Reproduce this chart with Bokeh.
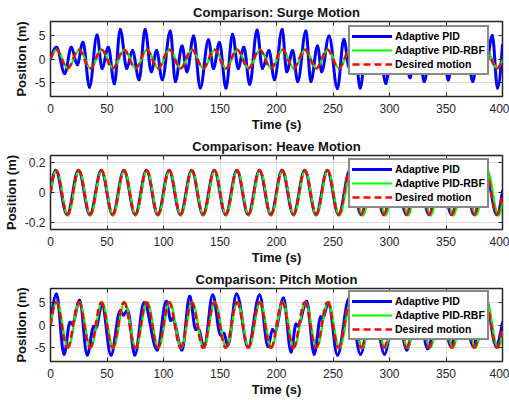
import numpy as np
from bokeh.plotting import figure
from bokeh.models import Range1d, FixedTicker, LinearAxis, Legend, LegendItem, ColumnDataSource
from bokeh.layouts import column
from bokeh.embed import file_html
from bokeh.resources import INLINE

FONT = "Liberation Sans"

# ---------------- data (extrema) ----------------
x_ticks = [0, 50, 100, 150, 200, 250, 300, 350, 400]
x_tick_labels = ["0", "50", "100", "150", "200", "250", "300", "350", "400"]

series_names = ["Adaptive PID", "Adaptive PID-RBF", "Desired motion"]

# desired motion: times of zero start, extrema, end
des_t = [0, 5, 15, 25, 35, 45, 55, 65, 75, 85, 95, 105, 115, 125, 135, 145, 155, 165, 175, 185, 195,
         205, 215, 225, 235, 245, 255, 265, 275, 285, 295, 305, 315, 325, 335, 345, 355, 365, 375, 385, 395, 400]

# ---- Surge ----
surge_y_ticks = [-5, 0, 5]
surge_y_labels = ["-5", "0", "5"]
surge_des = [0, 2, -2, 2, -2, 2, -2, 2, -2, 2, -2, 2, -2, 2, -2, 2, -2, 2, -2, 2, -2,
             2, -2, 2, -2, 2, -2, 2, -2, 2, -2, 2, -2, 2, -2, 2, -2, 2, -2, 2, -2, 0]
surge_rbf_t = [0, 5.5, 15.5, 25.5, 35.5, 45.5, 55.5, 65.5, 75.5, 85.5, 95.5, 105.5, 115.5, 125.5, 135.5,
               145.5, 155.5, 165.5, 175.5, 185.5, 195.5, 205.5, 215.5, 225.5, 235.5, 245.5, 255.5, 265.5,
               275.5, 285.5, 295.5, 305.5, 315.5, 325.5, 335.5, 345.5, 355.5, 365.5, 375.5, 385.5, 395.5, 400]
surge_rbf = [0, 2, -2, 2, -2, 2, -2, 2, -2, 2, -2, 2, -2, 2, -2, 2, -2, 2, -2, 2, -2,
             2, -2, 2, -2, 2, -2, 2, -2, 2, -2, 2, -2, 2, -2, 2, -2, 2, -2, 2, -2, -0.3]
surge_pid_t = [0, 5.3, 12.6, 18.4, 23.7, 28.7, 34.5, 41.2, 45.6, 51.2, 56.5, 61.7, 67.5, 72.5, 78.4,
               83.7, 89.2, 93.9, 98.9, 106, 110.5, 116.4, 120.8, 126.6, 132.5, 139.8, 144.2, 149.5,
               155.3, 161.1, 166.1, 171.1, 176.3, 182.8, 187.5, 193.3, 198.2, 205, 209.1, 214.3, 218.8,
               226, 230.4, 236.3, 240, 246.5, 253.9, 259.6, 264.5, 269, 274, 280.5, 286, 291, 296.8,
               303, 308, 313, 318.2, 324.5, 330.7, 336.5, 341, 346.5, 352, 358, 363, 368, 373.7, 380,
               385, 391, 395.6, 400]
surge_pid = [0, 2.5, -3.1, 2.5, -1.2, 3.6, -6.0, 5.1, -2.0, 2.5, -5.3, 6.3, -2.0, 1.8, -4.4,
             6.3, -2.7, 1.8, -4.4, 6.0, -4.8, 2.8, -2.7, 4.9, -6.2, 4.1, -2.0, 3.5,
             -6.2, 5.3, -2.0, 2.5, -5.4, 6.2, -2.0, 1.8, -4.4, 6.3, -2.7, 1.8, -4.8,
             6.0, -4.8, 2.8, -2.7, 4.9, -6.3, 4.2, -2.0, 3.5, -6.2, 5.5, -2.0, 2.5, -5.2,
             6.2, -2.0, 1.8, -4.0, 6.3, -4.8, 2.5, -2.7, 5.0, -4.5, 5.5, -2.5, 3.0, -4.8, 6.0,
             -2.0, 5.0, -6.2, 3.0]

# ---- Heave ----
heave_y_ticks = [-0.2, 0, 0.2]
heave_y_labels = ["-0.2", "0", "0.2"]
heave_des = [0, 0.15, -0.15, 0.15, -0.15, 0.15, -0.15, 0.15, -0.15, 0.15, -0.15, 0.15, -0.15, 0.15, -0.15,
             0.15, -0.15, 0.15, -0.15, 0.15, -0.15, 0.15, -0.15, 0.15, -0.15, 0.15, -0.15, 0.15, -0.15,
             0.15, -0.15, 0.15, -0.15, 0.15, -0.15, 0.15, -0.15, 0.15, -0.15, 0.15, -0.15, 0]
heave_rbf_t = [0, 5.4, 15.4, 25.4, 35.4, 45.4, 55.4, 65.4, 75.4, 85.4, 95.4, 105.4, 115.4, 125.4, 135.4,
               145.4, 155.4, 165.4, 175.4, 185.4, 195.4, 205.4, 215.4, 225.4, 235.4, 245.4, 255.6, 266.3,
               276.5, 286.5, 296.5, 306.5, 316.5, 326.5, 336.5, 346.5, 356.5, 366.5, 376.5, 386.5, 396.5, 400]
heave_rbf = [0, 0.15, -0.155, 0.15, -0.155, 0.15, -0.155, 0.15, -0.155, 0.15, -0.155, 0.15, -0.155, 0.15, -0.155,
             0.15, -0.155, 0.15, -0.155, 0.15, -0.155, 0.15, -0.155, 0.15, -0.155, 0.15, -0.155, 0.15, -0.155,
             0.15, -0.155, 0.15, -0.155, 0.15, -0.155, 0.15, -0.155, 0.15, -0.155, 0.15, -0.155, -0.07]
heave_pid_t = [0, 4.6, 14.7, 24.8, 34.9, 45, 55, 65, 75, 85, 95, 105, 115, 125, 135, 145, 155, 165, 175, 185, 195,
               205, 215, 225, 235, 245, 255, 265, 275, 285, 295, 305, 315, 325, 335, 345, 355, 365, 375, 385, 395, 400]
heave_pid = [0, 0.15, -0.15, 0.15, -0.15, 0.15, -0.15, 0.15, -0.15, 0.15, -0.15, 0.15, -0.15, 0.15, -0.15,
             0.15, -0.15, 0.15, -0.15, 0.15, -0.15, 0.15, -0.15, 0.15, -0.15, 0.15, -0.15, 0.15, -0.15,
             0.15, -0.15, 0.15, -0.15, 0.15, -0.15, 0.15, -0.15, 0.15, -0.15, 0.15, -0.15, 0.01]

# ---- Pitch ----
pitch_y_ticks = [-5, 0, 5]
pitch_y_labels = ["-5", "0", "5"]
pitch_des = [0, 5, -5, 5, -5, 5, -5, 5, -5, 5, -5, 5, -5, 5, -5, 5, -5, 5, -5, 5, -5,
             5, -5, 5, -5, 5, -5, 5, -5, 5, -5, 5, -5, 5, -5, 5, -5, 5, -5, 5, -5, 0]
pitch_rbf_t = [0, 5.6, 15.6, 25.6, 35.6, 45.6, 55.6, 65.6, 75.6, 85.6, 95.6, 105.6, 115.6, 125.6, 135.6,
               145.6, 155.6, 165.6, 175.6, 185.6, 195.6, 205.6, 215.6, 225.6, 235.6, 245.6, 255.8, 266,
               276, 286, 296, 306, 316, 326, 336, 346, 356, 366, 376, 386, 396, 400]
pitch_rbf = [0, 5, -5, 5, -5, 5, -5, 5, -5, 5, -5, 5, -5, 5, -5, 5, -5, 5, -5, 5, -5,
             5, -5, 5, -5, 5, -5, 5, -5, 5, -5, 5, -5, 5, -5, 5, -5, 5, -5, 5, -5, -1.5]
pitch_pid_t = [0, 5.3, 12.0, 17.3, 19.3, 25.8, 32.5, 38.3, 40.0, 45.6, 53.5, 61.7, 64.6, 68.2, 74.6,
               82.8, 94.5, 102.4, 106.5, 108, 116.4, 123.2, 128.5, 130.5, 136, 143.6, 150.5, 153.5,
               156.8, 164.7, 174.9, 185.1, 192.5, 196.5, 198.5, 206.2, 212.9, 217.3, 219, 226.7, 233.3,
               239.2, 240.8, 246, 253.9, 264.5, 274.3, 285, 295.6, 305.5, 315.3, 325, 333.7, 345, 354,
               365, 373.7, 385, 394.2, 400]
pitch_pid = [0, 6.8, -6.4, 0.6, 0.2, 5.4, -6.6, -0.3, -0.8, 4.5, -6.6, 3.1, 2.2, 3.3, -6.6,
             4.9, -5.5, 5.2, 1.0, 1.4, -5.5, 6.3, -1.0, -0.7, -4.9, 6.6, -2.2, -1.8,
             -4.5, 6.8, -4.9, 6.6, -4.7, -1.0, -1.5, 5.9, -5.9, 0.2, -0.2, 5.2, -6.4,
             1.8, 1.4, 5.0, -6.6, 6.0, -6.4, 5.8, -6.4, 6.2, -5.5, 5.5, -5.2, 6.8, -4.5,
             6.0, -4.5, 6.0, -4.5, 0.5]

COLORS = ["#0000ff", "#00ff00", "#ff0000"]
WIDTHS = [3, 2.2, 2.5]
DASHES = ["solid", "solid", "7 4"]


def bez_source(t, v, k=0.363):
    t = np.asarray(t, float)
    v = np.asarray(v, float)
    x0, x1 = t[:-1], t[1:]
    y0, y1 = v[:-1], v[1:]
    dx = x1 - x0
    cx0 = x0 + k * dx
    cy0 = y0.copy()
    cx1 = x1 - k * dx
    cy1 = y1.copy()
    # open (non-extremum) start and end points
    cx0[0] = x0[0] + dx[0] / 3.0
    cy0[0] = y0[0] + 0.52 * (y1[0] - y0[0])
    cx1[-1] = x1[-1] - dx[-1] / 3.0
    cy1[-1] = y1[-1] - 0.52 * (y1[-1] - y0[-1])
    return ColumnDataSource(dict(x0=x0, y0=y0, x1=x1, y1=y1, cx0=cx0, cy0=cy0, cx1=cx1, cy1=cy1))


def make_panel(title, y_lo, y_hi, y_ticks, y_labels, series, height, top, bottom):
    p = figure(width=509, height=height, x_range=Range1d(0, 400), y_range=Range1d(y_lo, y_hi),
               output_backend="svg", toolbar_location=None,
               min_border_left=46, min_border_right=7, min_border_top=top, min_border_bottom=bottom,
               background_fill_color="white", border_fill_color="white")
    p.title.text = title
    p.title.align = "center"
    p.title.text_font = FONT
    p.title.text_font_size = "13px"
    p.title.text_font_style = "bold"
    p.title.text_color = "#111111"
    p.title.standoff = 4
    p.outline_line_color = "#262626"
    p.outline_line_width = 1.5

    p.xaxis.ticker = FixedTicker(ticks=x_ticks)
    p.xaxis.major_label_overrides = dict(zip(x_ticks, x_tick_labels))
    p.yaxis.ticker = FixedTicker(ticks=y_ticks)
    p.yaxis.major_label_overrides = dict(zip(y_ticks, y_labels))
    p.xaxis.axis_label = "Time (s)"
    p.yaxis.axis_label = "Position (m)"
    for ax in (p.xaxis[0], p.yaxis[0]):
        ax.axis_line_color = None
        ax.major_tick_in = 4
        ax.major_tick_out = 0
        ax.major_tick_line_color = "#262626"
        ax.minor_tick_line_color = None
        ax.major_label_text_font = FONT
        ax.major_label_text_font_size = "12px"
        ax.major_label_text_color = "#262626"
        ax.axis_label_text_font = FONT
        ax.axis_label_text_font_size = "13px"
        ax.axis_label_text_font_style = "bold"
        ax.axis_label_text_color = "#111111"
    p.xaxis.major_label_standoff = 7
    p.xaxis.axis_label_standoff = 1
    p.yaxis.major_label_standoff = 5
    p.yaxis.axis_label_standoff = 3

    # inward ticks on the top and right edges of the box
    for ticks, place in ((x_ticks, "above"), (y_ticks, "right")):
        ax = LinearAxis(ticker=FixedTicker(ticks=ticks),
                        major_label_overrides={t: "" for t in ticks},
                        major_label_text_font_size="0px", major_label_standoff=0,
                        major_tick_in=4, major_tick_out=0, major_tick_line_color="#262626",
                        minor_tick_line_color=None, axis_line_color=None)
        p.add_layout(ax, place)

    p.xgrid.ticker = FixedTicker(ticks=x_ticks)
    p.ygrid.ticker = FixedTicker(ticks=y_ticks)
    p.grid.grid_line_color = "#dcdcdc"
    p.grid.grid_line_width = 1

    renderers = []
    for (t, v), c, w, d in zip(series, COLORS, WIDTHS, DASHES):
        src = bez_source(t, v)
        r = p.bezier(x0="x0", y0="y0", x1="x1", y1="y1", cx0="cx0", cy0="cy0", cx1="cx1", cy1="cy1",
                     source=src, line_color=c, line_width=w, line_dash=d,
                     line_cap="round" if d == "solid" else "butt")
        renderers.append(r)

    legend = Legend(items=[LegendItem(label=n, renderers=[r]) for n, r in zip(series_names, renderers)],
                    location=(298, 21), margin=0, padding=2, spacing=0,
                    glyph_width=40, glyph_height=14, label_height=14, label_standoff=3,
                    label_text_font=FONT, label_text_font_size="10.5px", label_text_font_style="bold",
                    label_text_color="black", border_line_color="#111111", border_line_width=2,
                    background_fill_color="white", background_fill_alpha=1.0)
    p.add_layout(legend)
    return p


p1 = make_panel("Comparison: Surge Motion", -8, 8, surge_y_ticks, surge_y_labels,
                [(surge_pid_t, surge_pid), (surge_rbf_t, surge_rbf), (des_t, surge_des)],
                134, 21, 38)
p2 = make_panel("Comparison: Heave Motion", -0.25, 0.25, heave_y_ticks, heave_y_labels,
                [(heave_pid_t, heave_pid), (heave_rbf_t, heave_rbf), (des_t, heave_des)],
                133, 19, 38)
p3 = make_panel("Comparison: Pitch Motion", -8, 8, pitch_y_ticks, pitch_y_labels,
                [(pitch_pid_t, pitch_pid), (pitch_rbf_t, pitch_rbf), (des_t, pitch_des)],
                133, 18, 39)

layout = column(p1, p2, p3, spacing=0)
open("out.html", "w").write(file_html(layout, INLINE))
